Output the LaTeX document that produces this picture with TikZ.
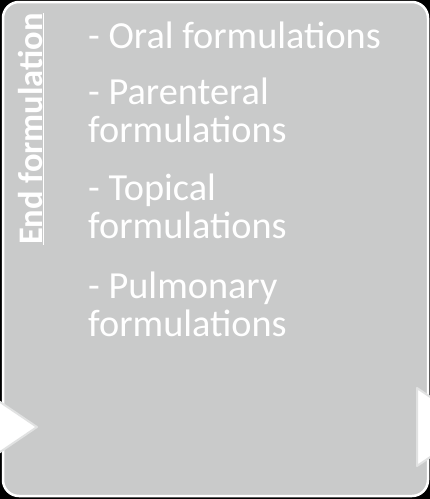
\documentclass[tikz,border=0pt]{standalone}
\usepackage{fontspec}
\setmainfont{Carlito}
\definecolor{boxgray}{RGB}{201,202,202}
\definecolor{tipgray}{RGB}{225,226,226}
\begin{document}
\begin{tikzpicture}[x=1pt, y=-1pt,
    stagebox/.style={draw=white, line width=2.5pt, fill=boxgray, rounded corners=16pt, minimum width=425pt, minimum height=494pt, inner sep=0pt},
    itemtext/.style={anchor=base west, inner sep=0pt, text=white, font=\fontsize{38.3}{39}\selectfont},
    headtext/.style={rotate=90, anchor=base, inner sep=0pt, text=white, font=\bfseries\fontsize{34.5}{35}\selectfont},
    tipshape/.style={fill=white, draw=tipgray, line width=2pt, line join=round}]
  \useasboundingbox (0,0) rectangle (430,499);
  \fill[black] (0,0) rectangle (430,499);
  \node (endbox) at (215.5,249) [stagebox] {};
  % arrow tips in and out
  \draw[tipshape] (-22,387) -- (37,427) -- (-22,467) -- cycle;
  \draw[tipshape] (417,388) -- (475,427) -- (417,466) -- cycle;
  \node (head) at (42,129) [headtext] {\underline{End formulation}};
  \foreach \n/\y/\txt in {1/48/- Oral formulations, 2/104/- Parenteral, 3/142/formulations, 4/200/- Topical, 5/238/formulations, 6/298/- Pulmonary, 7/336/formulations}
    \node (item\n) at (88,\y) [itemtext] {\txt};
\end{tikzpicture}
\end{document}
